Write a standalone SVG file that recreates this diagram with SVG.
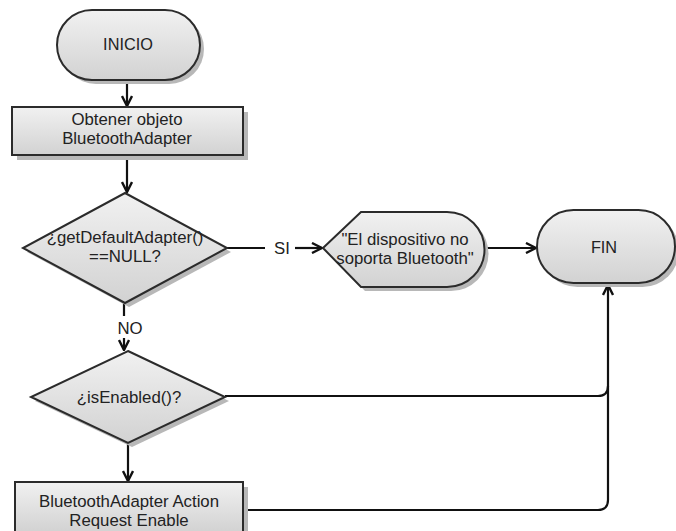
<svg xmlns="http://www.w3.org/2000/svg" width="676" height="531" viewBox="0 0 676 531">
  <style>
    .shape { fill: url(#fillGrad); stroke: #2b2b2b; stroke-width: 2; }
    .shadow { fill: #b8b8b8; stroke: none; }
    .label { font-family: "Liberation Sans", Arial, sans-serif; font-size: 16.8px; fill: #222; text-anchor: middle; }
    .term { font-size: 16.3px; }
    .edge { fill: none; stroke: #111; stroke-width: 2.2; }
  </style>
  <defs>
    <linearGradient id="fillGrad" x1="0" y1="0" x2="0" y2="1">
      <stop offset="0" stop-color="#f1f1f1"/>
      <stop offset="1" stop-color="#d2d2d2"/>
    </linearGradient>
    <marker id="arrow" viewBox="0 0 12 12" refX="11" refY="6" markerWidth="12" markerHeight="12" markerUnits="userSpaceOnUse" orient="auto">
      <path d="M1,1 L11,6 L1,11" fill="none" stroke="#111" stroke-width="2.4"/>
    </marker>
  </defs>
  <rect width="676" height="531" fill="#fff"/>

  <!-- connectors -->
  <g id="connectors">
    <path class="edge" d="M127,80 V106" marker-end="url(#arrow)"/>
    <path class="edge" d="M127,155 V192" marker-end="url(#arrow)"/>
    <path class="edge" d="M227,248 H265"/>
    <text class="label" x="282" y="254">SI</text>
    <path class="edge" d="M295,248 H322" marker-end="url(#arrow)"/>
    <path class="edge" d="M484,248 H536" marker-end="url(#arrow)"/>
    <path class="edge" d="M124,303 V316"/>
    <text class="label" x="130" y="334">NO</text>
    <path class="edge" d="M124,338 V350" marker-end="url(#arrow)"/>
    <path class="edge" d="M128,443 V481" marker-end="url(#arrow)"/>
    <path class="edge" d="M225,396 H598 Q608,396 608,386"/>
    <path class="edge" d="M244,510 H598 Q608,510 608,500 V285" marker-end="url(#arrow)"/>
  </g>

  <g id="inicio">
    <rect class="shadow" x="61" y="14" width="143" height="70" rx="35"/>
    <rect class="shape" x="57" y="10" width="143" height="70" rx="35"/>
    <text class="label term" x="128" y="50">INICIO</text>
  </g>

  <g id="obtener">
    <rect class="shadow" x="17" y="112" width="231" height="48"/>
    <rect class="shape" x="12" y="107" width="231" height="48"/>
    <text class="label" x="127" y="125">Obtener objeto</text>
    <text class="label" x="127" y="144">BluetoothAdapter</text>
  </g>

  <g id="getDefaultAdapter">
    <path class="shadow" d="M129,197 L231,252 L129,307 L27,252 Z"/>
    <path class="shape" d="M125,193 L227,248 L125,303 L23,248 Z"/>
    <text class="label" x="125" y="243">¿getDefaultAdapter()</text>
    <text class="label" x="125" y="262">==NULL?</text>
  </g>

  <g id="noSoporta">
    <path class="shadow" d="M327,252 L365,216 H451 A37.5,37.5 0 0 1 451,291 H365 Z"/>
    <path class="shape" d="M323,248 L361,212 H447 A37.5,37.5 0 0 1 447,287 H361 Z"/>
    <text class="label" x="405" y="245">"El dispositivo no</text>
    <text class="label" x="405" y="264">soporta Bluetooth"</text>
  </g>

  <g id="fin">
    <rect class="shadow" x="541" y="214" width="138" height="73" rx="36.5"/>
    <rect class="shape" x="537" y="210" width="138" height="73" rx="36.5"/>
    <text class="label term" x="604" y="253">FIN</text>
  </g>

  <g id="isEnabled">
    <path class="shadow" d="M132,355 L229,401 L132,447 L35,401 Z"/>
    <path class="shape" d="M128,351 L225,397 L128,443 L31,397 Z"/>
    <text class="label" x="129" y="403">¿isEnabled()?</text>
  </g>

  <g id="requestEnable">
    <rect class="shadow" x="20" y="487" width="228" height="50"/>
    <rect class="shape" x="15" y="482" width="228" height="50"/>
    <text class="label" x="129" y="507">BluetoothAdapter Action</text>
    <text class="label" x="129" y="526">Request Enable</text>
  </g>
</svg>
